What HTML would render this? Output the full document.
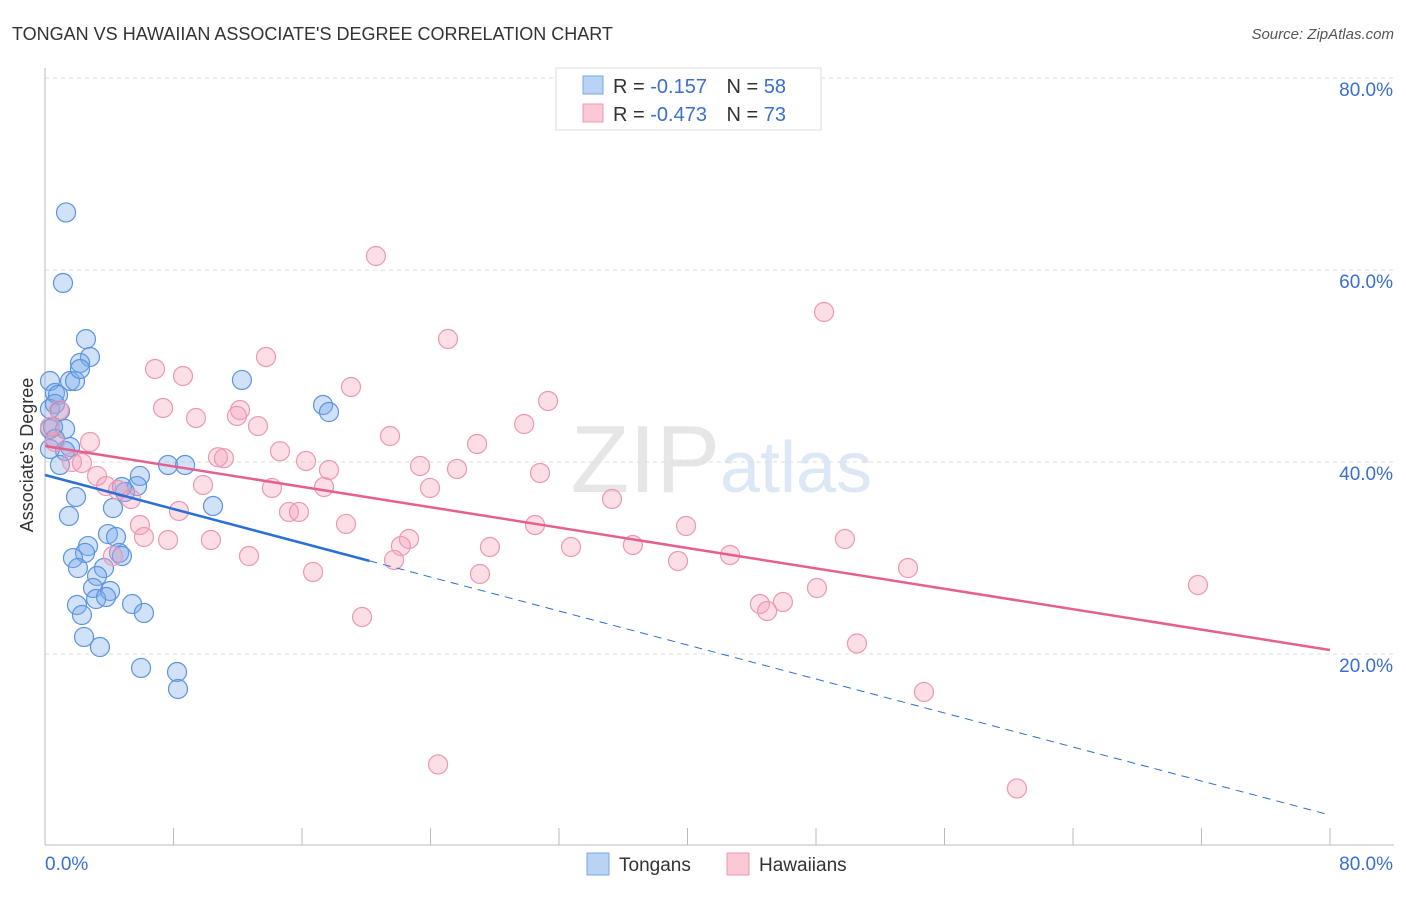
<!DOCTYPE html>
<html><head><meta charset="utf-8"><style>
body{margin:0;background:#fff;font-family:"Liberation Sans",sans-serif}
svg text{font-family:"Liberation Sans",sans-serif}
</style></head><body>
<svg id="chart" width="1406" height="892" xmlns="http://www.w3.org/2000/svg">
<text x="12" y="40" font-size="18" fill="#333">TONGAN VS HAWAIIAN ASSOCIATE'S DEGREE CORRELATION CHART</text>
<text x="1394" y="39" font-size="15" fill="#555" text-anchor="end" font-style="italic">Source: ZipAtlas.com</text>
<text x="720" y="492" font-size="96" fill="#e6e6e6" text-anchor="end" font-family="Liberation Serif">ZIP</text>
<text x="720" y="492" font-size="72" fill="#dce8f6">atlas</text>
<g id="grid"></g><g id="axes"></g><g id="marks"></g>
<text transform="translate(33,455) rotate(-90)" font-size="18" fill="#333" text-anchor="middle">Associate's Degree</text>
<g>
<rect x="556" y="68" width="265" height="62" fill="#fff" stroke="#ddd"/>
<rect x="583" y="76" width="20" height="18" fill="#b8d3f4" stroke="#7aa8e6"/>
<rect x="583" y="104" width="20" height="18" fill="#fbc8d6" stroke="#ec9ab2"/>
<text x="613" y="93" font-size="20" fill="#333">R = <tspan fill="#3a6fd0"> -0.157</tspan>  <tspan dx="14">N = </tspan><tspan fill="#3a6fd0">58</tspan></text>
<text x="613" y="121" font-size="20" fill="#333">R = <tspan fill="#3a6fd0">-0.473</tspan>  <tspan dx="14">N = </tspan><tspan fill="#3a6fd0">73</tspan></text>
</g>
<g>
<rect x="587" y="853" width="22" height="22" fill="#b8d3f4" stroke="#7aa8e6"/>
<text x="619" y="871" font-size="19" fill="#333">Tongans</text>
<rect x="727" y="853" width="22" height="22" fill="#fbc8d6" stroke="#ec9ab2"/>
<text x="759" y="871" font-size="19" fill="#333">Hawaiians</text>
</g>
</svg>
<script>
const yTicks=[20,40,60,80];
const yTickLabels=["20.0%","40.0%","60.0%","80.0%"];
const xTickLabels=["0.0%","80.0%"];
const tonganX=[1.31,1.12,2.55,2.8,2.18,0.31,1.56,1.87,12.26,0.62,0.81,0.31,0.62,0.93,0.31,1.25,0.5,1.56,1.25,0.93,7.66,8.72,5.91,5.73,4.98,4.79,1.93,1.49,4.23,10.46,3.92,4.42,2.68,2.49,1.74,4.61,4.79,2.05,3.67,3.24,2.99,4.05,3.18,3.8,1.99,5.42,2.3,6.16,2.43,3.42,5.98,8.22,8.28,17.31,17.68,0.31,0.62,2.18];
const tonganY=[66.1,58.75,52.9,51.04,50.42,48.54,48.54,48.54,48.65,47.29,47.08,45.63,46.15,45.42,43.54,43.54,43.75,41.67,41.25,39.79,39.79,39.79,38.65,37.6,36.98,37.5,36.46,34.48,35.31,35.52,32.6,32.29,31.35,30.63,30.1,30.63,30.31,29.06,29.06,28.23,26.98,26.67,25.83,26.04,25.21,25.31,24.17,24.38,21.88,20.83,18.65,18.23,16.46,46.04,45.31,41.46,42.5,49.79];
const hawaiianX=[20.6,48.5,25.09,13.76,6.85,8.59,19.05,31.32,7.35,12.14,0.87,9.4,11.95,29.83,13.26,21.48,2.8,26.9,14.63,10.77,11.14,16.25,1.68,2.3,23.35,25.65,17.68,30.82,3.24,9.84,3.8,14.13,17.37,23.97,4.55,5.35,35.3,8.34,15.19,15.81,18.74,5.91,30.51,39.91,6.16,7.66,10.33,22.66,22.16,27.7,32.75,36.6,49.8,12.7,42.65,39.41,21.73,4.23,16.69,27.08,53.73,71.78,48.06,44.51,45.94,44.96,19.74,50.55,54.72,24.47,60.51,0.62,0.31];
const hawaiianY=[61.56,55.73,52.92,51.04,49.79,49.06,47.92,46.46,45.73,45.52,45.52,44.69,44.9,44.06,43.85,42.81,42.19,41.98,41.23,40.6,40.5,40.21,40.1,40,39.69,39.38,39.27,38.96,38.65,37.71,37.6,37.4,37.5,37.4,37.19,36.25,36.25,35,34.9,34.9,33.65,33.54,33.54,33.44,32.29,31.98,31.98,32.08,31.35,31.25,31.25,31.46,32.08,30.31,30.42,29.79,29.9,30.31,28.65,28.44,29.06,27.29,26.98,25.31,25.52,24.58,23.96,21.2,16.15,8.6,6.1,42.19,43.75];
const tonganTrend=[38.75,3.33];const tonganSolidEnd=20.2;
const hawaiianTrend=[41.77,20.52];
const X0=45,X1=1330,Y0=847,PY=192/20;
const xs=v=>X0+v/80*(X1-X0), ys=v=>Y0-v*PY;
const NS="http://www.w3.org/2000/svg";
function mk(t,a,p){const e=document.createElementNS(NS,t);for(const k in a)e.setAttribute(k,a[k]);p.appendChild(e);return e;}
const grid=document.getElementById('grid'),axes=document.getElementById('axes'),marks=document.getElementById('marks');
yTicks.forEach((t,i)=>{const l=mk('line',{x1:X0,x2:1394,y1:ys(t)-1,y2:ys(t)-1,stroke:'#ddd','stroke-dasharray':'4,4'},grid);

const tx=mk('text',{x:1393,y:ys(t)+17,'font-size':19,fill:'#3a6fd0','text-anchor':'end'},axes);tx.textContent=yTickLabels[i];
});
let a=mk('line',{x1:X0,x2:X0,y1:68,y2:845,stroke:'#bbb'},axes);
a=mk('line',{x1:X0,x2:1394,y1:845,y2:845,stroke:'#bbb'},axes);
for(let i=0;i<=10;i++){const t=mk('line',{x1:xs(i*8),x2:xs(i*8),y1:828,y2:845,stroke:'#bbb'},axes);}
let t1=mk('text',{x:45,y:870,'font-size':19,fill:'#3a6fd0'},axes);t1.textContent=xTickLabels[0];
t1=mk('text',{x:1393,y:870,'font-size':19,fill:'#3a6fd0','text-anchor':'end'},axes);t1.textContent=xTickLabels[1];
tonganX.forEach((x,i)=>{const c=mk('circle',{cx:xs(x),cy:ys(tonganY[i]),r:9.5,fill:'rgba(120,170,235,0.35)',stroke:'#5c94e0','stroke-width':1.2},marks);
});
hawaiianX.forEach((x,i)=>{const c=mk('circle',{cx:xs(x),cy:ys(hawaiianY[i]),r:9.5,fill:'rgba(245,160,185,0.35)',stroke:'#eb98b0','stroke-width':1.2},marks);
});
const bt=x=>tonganTrend[0]+(tonganTrend[1]-tonganTrend[0])*x/80;
let l=mk('line',{x1:xs(0),y1:ys(bt(0)),x2:xs(tonganSolidEnd),y2:ys(bt(tonganSolidEnd)),stroke:'#2a6fd6','stroke-width':2.5},marks);

l=mk('line',{x1:xs(tonganSolidEnd),y1:ys(bt(tonganSolidEnd)),x2:xs(80),y2:ys(bt(80)),stroke:'#2a6fd6','stroke-width':1,'stroke-dasharray':'8,6'},marks);

l=mk('line',{x1:xs(0),y1:ys(hawaiianTrend[0]),x2:xs(80),y2:ys(hawaiianTrend[1]),stroke:'#e5608e','stroke-width':2.5},marks);

</script>
</body></html>
